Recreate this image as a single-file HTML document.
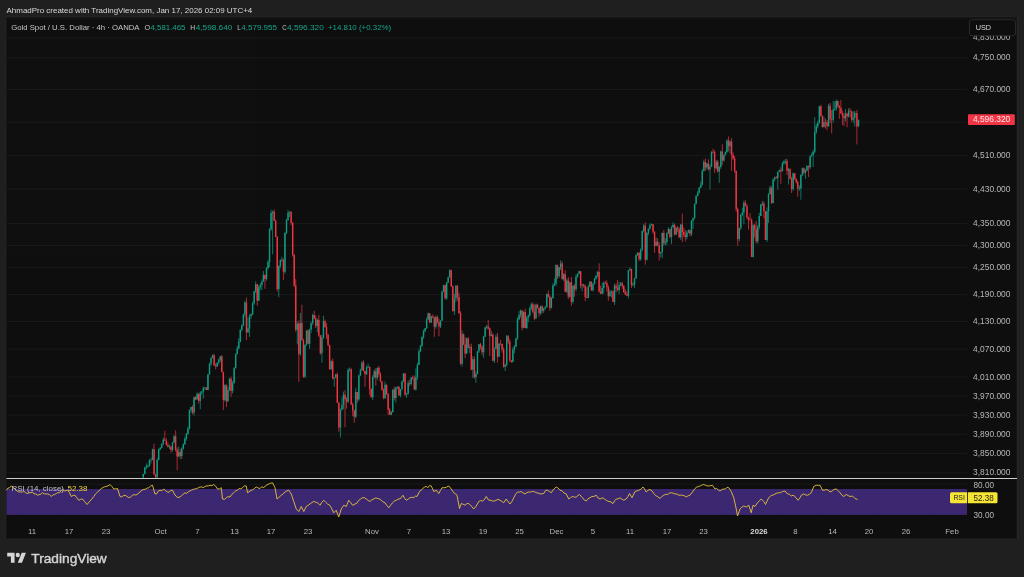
<!DOCTYPE html>
<html><head><meta charset="utf-8"><title>XAUUSD chart</title>
<style>
html,body{margin:0;padding:0;background:#1f1f1f;}
body{width:1024px;height:577px;position:relative;overflow:hidden;font-family:"Liberation Sans",sans-serif;}
svg{position:absolute;left:0;top:0;will-change:transform;opacity:0.9999;}
svg text{font-family:"Liberation Sans",sans-serif;}
</style></head><body>
<svg width="1024" height="577" viewBox="0 0 1024 577">
<defs><clipPath id="mp"><rect x="6.5" y="17" width="961" height="461"/></clipPath>
<filter id="soft" x="0" y="0" width="100%" height="100%" filterUnits="userSpaceOnUse"><feGaussianBlur stdDeviation="0.42"/></filter>
<pattern id="dots" x="6.5" y="489" width="3.8" height="5.4" patternUnits="userSpaceOnUse"><circle cx="1" cy="1.2" r="0.32" fill="#6d58a8"/><circle cx="2.9" cy="3.9" r="0.32" fill="#6d58a8"/></pattern></defs>
<rect x="5.4" y="16.2" width="1013.4" height="523.9" fill="#252525"/>
<rect x="6.2" y="17" width="1010.5" height="521.6" fill="#0f0f0f"/>
<rect x="6.2" y="17" width="1010.5" height="1.7" fill="#171717"/>
<rect x="6.2" y="17" width="0.9" height="521.6" fill="#171717"/>
<path d="M6.5 38.00H967" stroke="#1b1b1b" stroke-width="1"/><path d="M6.5 57.75H967" stroke="#1b1b1b" stroke-width="1"/><path d="M6.5 89.40H967" stroke="#1b1b1b" stroke-width="1"/><path d="M6.5 122.20H967" stroke="#1b1b1b" stroke-width="1"/><path d="M6.5 155.40H967" stroke="#1b1b1b" stroke-width="1"/><path d="M6.5 189.00H967" stroke="#1b1b1b" stroke-width="1"/><path d="M6.5 223.60H967" stroke="#1b1b1b" stroke-width="1"/><path d="M6.5 245.40H967" stroke="#1b1b1b" stroke-width="1"/><path d="M6.5 267.30H967" stroke="#1b1b1b" stroke-width="1"/><path d="M6.5 294.40H967" stroke="#1b1b1b" stroke-width="1"/><path d="M6.5 321.50H967" stroke="#1b1b1b" stroke-width="1"/><path d="M6.5 349.20H967" stroke="#1b1b1b" stroke-width="1"/><path d="M6.5 377.00H967" stroke="#1b1b1b" stroke-width="1"/><path d="M6.5 396.20H967" stroke="#1b1b1b" stroke-width="1"/><path d="M6.5 415.20H967" stroke="#1b1b1b" stroke-width="1"/><path d="M6.5 434.30H967" stroke="#1b1b1b" stroke-width="1"/><path d="M6.5 453.60H967" stroke="#1b1b1b" stroke-width="1"/><path d="M6.5 472.70H967" stroke="#1b1b1b" stroke-width="1"/><path d="M6.5 484.1H967" stroke="#1b1b1b" stroke-width="1"/>
<rect x="6.5" y="489" width="960.5" height="25.9" fill="#3c2771"/>
<rect x="6.5" y="489" width="960.5" height="25.9" fill="url(#dots)" opacity="0.55"/>
<g clip-path="url(#mp)"><g filter="url(#soft)"><path d="M143.28 473.55V477.67M144.82 466.77V474.58M146.36 463.28V469.22M147.90 464.83V467.86M149.44 459.18V466.55M150.98 457.72V463.54M152.52 448.66V460.36M157.14 457.78V478.56M158.68 448.51V460.32M160.22 447.05V450.16M161.76 443.09V448.42M163.30 437.40V444.81M169.46 444.56V449.04M172.54 442.03V451.49M174.08 435.10V442.99M178.70 446.54V457.10M181.78 447.33V458.79M183.32 443.20V449.49M184.86 436.70V445.05M186.40 432.97V440.57M187.94 426.29V434.62M189.48 409.32V429.43M191.02 406.69V412.91M194.10 396.89V415.64M197.18 392.29V399.40M200.26 391.19V409.21M201.80 391.11V394.65M203.34 386.61V398.74M204.88 386.88V390.16M207.96 373.81V390.16M209.50 362.90V374.58M211.04 356.74V365.99M212.58 354.43V358.46M217.20 362.47V366.95M218.74 358.69V364.47M220.28 355.64V362.05M224.90 384.20V401.53M227.98 386.71V401.74M229.52 378.00V391.13M232.60 380.94V393.43M234.14 367.04V383.41M235.68 353.30V368.38M237.22 345.84V354.49M238.76 338.04V349.38M240.30 329.48V342.54M241.84 324.27V331.55M243.38 313.72V326.23M244.92 300.81V317.15M248.00 317.34V333.01M249.54 313.72V336.91M251.08 313.39V318.81M252.62 301.87V315.14M254.16 290.73V304.89M255.70 281.21V293.18M258.78 285.26V300.83M260.32 283.15V289.87M261.86 279.41V290.20M263.40 271.05V281.81M266.48 267.22V280.73M268.02 259.72V269.38M269.56 228.07V267.18M271.10 209.81V230.96M272.64 210.50V254.47M278.80 265.30V297.21M280.34 259.40V268.33M281.88 256.70V261.85M284.96 232.06V274.03M286.50 218.73V234.12M288.04 209.81V220.84M289.58 211.13V217.15M297.28 321.62V344.31M300.36 313.00V355.79M304.98 344.33V377.91M306.52 330.10V345.85M309.60 328.62V348.87M311.14 321.50V333.16M312.68 313.81V325.08M317.30 318.53V332.30M321.92 334.61V362.88M323.46 315.74V338.75M331.16 360.47V369.73M334.24 377.54V386.76M335.78 374.10V378.30M340.40 408.26V437.55M341.94 397.34V410.53M343.48 391.56V409.27M348.10 368.16V403.12M349.64 367.43V371.77M355.80 387.75V418.15M358.88 374.43V400.78M360.42 368.68V375.90M361.96 360.96V370.83M366.58 365.47V375.07M368.12 363.55V367.73M372.74 374.96V399.90M374.28 369.32V378.45M377.36 367.71V380.02M385.06 381.57V399.11M391.22 411.12V415.21M392.76 388.95V412.77M395.84 387.22V402.43M397.38 386.36V389.13M400.46 388.92V397.45M402.00 380.40V390.64M403.54 372.97V382.20M406.62 392.92V397.84M408.16 380.43V394.81M411.24 377.24V385.35M415.86 368.50V390.76M417.40 362.79V380.08M418.94 349.08V365.00M420.48 344.89V352.12M422.02 336.16V346.74M423.56 329.35V338.87M425.10 328.03V332.44M426.64 317.37V329.08M428.18 312.45V320.21M431.26 315.77V322.72M435.88 315.38V328.74M440.50 320.51V328.14M442.04 290.53V321.01M443.58 284.87V292.17M446.66 281.84V299.96M448.20 276.50V283.04M449.74 269.30V277.71M454.36 293.93V315.03M455.90 284.99V302.21M462.06 330.29V366.70M466.68 337.42V353.78M469.76 344.39V353.16M472.84 356.24V378.02M475.92 371.25V382.82M477.46 350.77V374.39M479.00 344.03V353.02M483.62 335.86V357.86M485.16 326.75V337.10M486.70 324.92V329.25M491.32 330.91V336.56M494.40 347.30V363.08M495.94 334.42V349.31M499.02 343.02V357.15M505.18 364.02V371.02M506.72 334.82V366.51M512.88 347.09V362.67M514.42 345.04V353.40M515.96 337.92V347.47M517.50 317.29V339.74M519.04 311.10V320.35M520.58 309.57V317.60M523.66 311.24V328.42M526.74 316.28V329.16M528.28 314.33V322.27M529.82 306.51V316.61M531.36 302.84V310.05M535.98 303.67V318.78M540.60 305.58V314.95M543.68 307.57V312.87M545.22 305.76V309.46M546.76 293.79V307.27M551.38 296.81V308.48M552.92 283.22V298.72M554.46 278.53V286.01M556.00 264.29V286.09M559.08 266.97V277.99M560.62 260.29V270.11M563.70 272.89V281.04M566.78 278.49V293.04M569.86 281.79V297.58M572.94 285.19V303.44M576.02 274.11V291.29M577.56 273.63V277.80M579.10 270.77V274.35M582.18 283.84V291.23M588.34 284.76V298.17M589.88 280.91V287.02M592.96 282.64V291.43M594.50 277.86V284.24M596.04 275.12V279.61M597.58 270.95V277.34M602.20 282.53V294.43M603.74 281.52V293.37M609.90 289.43V296.64M611.44 290.38V297.60M614.52 283.85V305.05M619.14 282.22V294.08M620.68 282.00V286.26M628.38 270.20V298.42M629.92 267.16V271.18M633.00 281.91V286.31M634.54 277.76V288.26M636.08 253.80V278.62M637.62 252.44V255.75M640.70 248.35V260.77M642.24 230.34V251.29M643.78 224.02V232.47M646.86 232.23V260.57M648.40 228.57V235.27M649.94 223.60V229.73M651.48 223.42V225.59M656.10 237.52V246.45M660.72 251.83V257.21M662.26 232.43V258.13M665.34 238.36V245.46M666.88 232.43V244.92M668.42 227.12V234.02M671.50 225.81V244.18M673.04 222.30V228.25M676.12 227.05V235.36M680.74 224.19V239.89M686.90 230.54V239.35M688.44 229.43V233.21M691.52 219.99V236.03M693.06 217.64V228.90M694.60 203.51V219.36M696.14 195.07V204.45M697.68 191.05V196.53M699.22 186.74V193.56M700.76 181.40V187.98M702.30 169.12V185.62M703.84 159.62V171.63M706.92 163.05V169.55M710.00 164.24V189.66M711.54 151.13V167.09M716.16 160.03V169.70M719.24 166.01V182.75M720.78 150.67V168.86M723.86 154.67V161.76M725.40 151.33V155.77M726.94 139.30V153.48M730.02 140.27V153.59M739.26 227.85V241.35M740.80 213.65V230.12M742.34 207.78V216.23M743.88 200.67V224.17M753.12 223.77V257.56M757.74 224.94V243.89M759.28 212.78V229.27M760.82 203.83V216.18M762.36 200.85V205.80M766.98 207.51V242.05M768.52 193.27V222.89M770.06 185.75V194.78M773.14 178.27V203.34M774.68 176.68V181.37M777.76 171.43V189.62M779.30 169.54V172.06M782.38 161.40V171.40M783.92 160.08V164.58M785.46 158.89V164.31M788.54 168.13V184.47M793.16 172.66V190.89M799.32 185.19V190.83M800.86 174.60V199.71M802.40 167.57V176.12M805.48 168.96V178.81M807.02 165.07V171.34M810.10 155.11V169.17M811.64 152.67V156.45M813.18 149.63V166.97M814.72 117.14V153.41M816.26 123.97V133.87M817.80 120.76V128.41M819.34 106.04V123.81M823.96 116.61V127.40M828.58 103.89V126.90M833.20 100.91V122.40M834.74 101.23V110.82M836.28 99.58V110.80M845.52 109.08V121.53M848.60 108.18V117.53M853.22 111.26V122.84M854.76 110.83V126.50M858.50 119.40V127.00" stroke="#0f9f86" stroke-width="0.7" fill="none"/><path d="M154.06 443.65V474.97M155.60 473.79V477.97M164.84 430.86V440.79M166.38 438.14V445.55M167.92 442.34V447.51M171.00 445.76V452.64M175.62 430.46V451.52M177.16 447.57V470.24M180.24 448.89V459.26M192.56 405.13V414.37M195.64 395.98V400.10M198.72 392.84V403.49M206.42 387.21V390.12M214.12 353.71V365.89M215.66 363.49V369.33M221.82 355.09V372.17M223.36 371.67V410.11M226.44 384.27V407.07M231.06 376.61V396.98M246.46 297.44V340.13M257.24 283.96V305.74M264.94 274.52V288.80M274.18 209.41V220.91M275.72 219.56V237.29M277.26 235.99V291.38M283.42 258.49V280.12M291.12 210.96V225.19M292.66 222.01V256.50M294.20 254.11V287.05M295.74 279.03V331.97M298.82 320.37V381.93M301.90 304.80V340.49M303.44 338.74V377.85M308.06 329.54V344.17M314.22 310.71V319.17M315.76 315.50V328.04M318.84 314.93V337.02M320.38 335.00V354.82M325.00 319.66V327.89M326.54 322.91V338.95M328.08 333.64V346.07M329.62 344.72V369.79M332.70 358.58V379.52M337.32 372.56V403.23M338.86 402.16V431.77M345.02 390.13V427.21M346.56 397.19V408.67M351.18 368.19V405.34M352.72 402.47V416.26M354.26 409.86V422.80M357.34 392.01V403.17M363.50 360.31V371.64M365.04 370.96V386.91M369.66 366.30V395.08M371.20 388.53V397.54M375.82 368.20V385.72M378.90 365.76V376.70M380.44 372.40V382.14M381.98 380.85V390.60M383.52 388.32V399.37M386.60 384.68V394.92M388.14 392.95V414.99M389.68 407.78V415.03M394.30 386.54V400.45M398.92 386.16V395.42M405.08 373.25V396.03M409.70 379.62V386.36M412.78 375.54V379.96M414.32 375.41V389.99M429.72 313.20V323.12M432.80 314.18V318.33M434.34 316.39V336.80M437.42 315.57V323.66M438.96 318.53V336.25M445.12 284.70V299.23M451.28 269.76V287.04M452.82 285.37V311.17M457.44 285.26V300.84M458.98 292.84V313.88M460.52 311.08V364.97M463.60 333.27V345.07M465.14 337.45V358.03M468.22 337.13V348.47M471.30 343.69V370.21M474.38 356.41V378.77M480.54 342.87V349.50M482.08 345.63V355.14M488.24 320.03V329.83M489.78 327.54V356.01M492.86 333.15V361.15M497.48 332.78V362.65M500.56 339.83V345.16M502.10 343.50V352.48M503.64 347.33V367.58M508.26 335.07V344.25M509.80 339.23V361.79M511.34 360.28V363.00M522.12 310.22V330.55M525.20 308.53V328.25M532.90 302.33V313.48M534.44 304.54V320.17M537.52 303.74V308.66M539.06 307.56V316.85M542.14 305.57V313.24M548.30 290.37V297.56M549.84 295.27V310.76M557.54 264.64V279.04M562.16 261.14V279.29M565.24 270.34V292.11M568.32 277.17V299.09M571.40 276.87V305.75M574.48 283.93V296.76M580.64 270.96V288.43M583.72 283.71V287.84M585.26 284.67V301.25M586.80 287.20V298.12M591.42 281.31V290.79M599.12 263.28V292.90M600.66 285.63V294.12M605.28 280.72V284.08M606.82 280.48V291.66M608.36 285.39V300.69M612.98 290.68V302.06M616.06 283.29V292.61M617.60 280.11V291.17M622.22 281.85V288.69M623.76 284.89V292.58M625.30 288.95V295.06M626.84 290.93V296.13M631.46 268.66V288.00M639.16 252.06V261.20M645.32 222.41V264.62M653.02 224.02V233.78M654.56 231.57V252.83M657.64 238.15V246.13M659.18 242.14V260.54M663.80 229.86V245.92M669.96 228.97V238.47M674.58 223.73V235.28M677.66 225.84V232.35M679.20 227.18V238.07M682.28 213.59V242.21M683.82 227.68V237.35M685.36 229.93V241.37M689.98 229.65V236.26M705.38 158.46V170.90M708.46 159.36V170.81M713.08 148.61V153.55M714.62 150.13V172.96M717.70 159.77V172.31M722.32 144.33V164.96M728.48 136.55V151.46M731.56 138.23V170.93M733.10 152.45V160.21M734.64 156.00V172.79M736.18 170.68V211.99M737.72 207.71V245.72M745.42 200.20V206.36M746.96 203.91V219.30M748.50 216.71V229.58M750.04 213.16V220.55M751.58 218.27V257.03M754.66 223.89V237.59M756.20 220.96V243.39M763.90 201.42V218.32M765.44 210.96V240.01M771.60 186.12V204.03M776.22 176.01V179.03M780.84 167.26V183.78M787.00 158.93V175.09M790.08 168.39V179.43M791.62 176.70V193.01M794.70 173.11V179.59M796.24 178.35V183.56M797.78 180.40V196.77M803.94 167.41V174.35M808.56 165.40V176.98M820.88 104.68V116.51M822.42 115.27V127.66M825.50 118.76V128.38M827.04 120.24V130.18M830.12 102.99V123.32M831.66 110.09V133.35M837.82 100.66V107.81M839.36 104.96V118.84M840.90 99.96V113.96M842.44 110.46V125.10M843.98 112.72V126.12M847.06 112.70V127.28M850.14 108.11V117.61M851.68 110.37V121.65M856.90 109.90V144.50" stroke="#f23645" stroke-width="0.7" fill="none"/><path d="M143.28 474.11V477.42M144.82 467.80V474.11M146.36 466.26V467.80M147.90 465.83V466.43M149.44 460.12V465.99M150.98 459.77V460.37M152.52 449.17V460.03M157.14 459.94V477.25M158.68 449.33V459.94M160.22 447.75V449.33M161.76 444.14V447.75M163.30 439.39V444.14M169.46 446.54V447.14M172.54 442.49V450.06M174.08 436.32V442.49M178.70 451.88V456.46M181.78 448.56V456.01M183.32 444.37V448.56M184.86 438.85V444.37M186.40 434.04V438.85M187.94 428.50V434.04M189.48 410.01V428.50M191.02 406.90V410.01M194.10 397.24V412.58M197.18 393.88V399.38M200.26 392.71V401.08M201.80 391.44V392.71M203.34 388.00V391.44M204.88 387.49V388.09M207.96 374.58V389.96M209.50 363.78V374.58M211.04 358.05V363.78M212.58 355.19V358.05M217.20 362.74V366.51M218.74 359.38V362.74M220.28 356.46V359.38M224.90 385.31V400.04M227.98 389.93V401.29M229.52 378.68V389.93M232.60 383.20V390.83M234.14 368.28V383.20M235.68 354.17V368.28M237.22 348.38V354.17M238.76 341.77V348.38M240.30 329.63V341.77M241.84 325.17V329.63M243.38 314.39V325.17M244.92 302.43V314.39M248.00 328.34V332.17M249.54 316.13V328.34M251.08 314.47V316.13M252.62 303.24V314.47M254.16 291.54V303.24M255.70 284.16V291.54M258.78 287.21V300.69M260.32 284.94V287.21M261.86 281.45V284.94M263.40 274.89V281.45M266.48 268.36V279.09M268.02 261.90V268.36M269.56 229.26V261.90M271.10 212.95V229.26M272.64 211.65V212.95M278.80 265.96V289.06M280.34 260.13V265.96M281.88 259.59V260.19M284.96 232.91V271.77M286.50 220.03V232.91M288.04 212.72V220.03M289.58 211.93V212.72M297.28 323.87V329.68M300.36 323.10V354.35M304.98 344.65V376.85M306.52 330.52V344.65M309.60 329.54V343.74M311.14 323.22V329.54M312.68 314.89V323.22M317.30 319.99V325.94M321.92 337.66V353.32M323.46 321.14V337.66M331.16 361.27V369.26M334.24 377.54V378.61M335.78 374.24V377.54M340.40 409.72V427.60M341.94 404.82V409.72M343.48 394.78V404.82M348.10 369.95V401.65M349.64 369.32V369.95M355.80 392.11V416.78M358.88 375.39V399.51M360.42 369.97V375.39M361.96 362.52V369.97M366.58 367.25V374.37M368.12 366.85V367.45M372.74 376.97V397.28M374.28 371.27V376.97M377.36 367.77V377.68M385.06 384.69V397.93M391.22 411.90V414.64M392.76 389.69V411.90M395.84 387.44V397.96M397.38 386.83V387.44M400.46 389.07V395.38M402.00 381.38V389.07M403.54 373.38V381.38M406.62 393.59V394.48M408.16 382.94V393.59M411.24 377.51V383.75M415.86 376.92V389.43M417.40 364.98V376.92M418.94 351.24V364.98M420.48 345.96V351.24M422.02 337.04V345.96M423.56 331.28V337.04M425.10 328.34V331.28M426.64 319.42V328.34M428.18 313.21V319.42M431.26 316.55V322.38M435.88 317.07V326.81M440.50 320.57V326.44M442.04 291.73V320.57M443.58 284.95V291.73M446.66 282.52V298.24M448.20 277.32V282.52M449.74 270.33V277.32M454.36 298.50V311.16M455.90 285.82V298.50M462.06 334.18V363.82M466.68 338.50V353.58M469.76 347.06V347.77M472.84 359.17V369.73M475.92 373.98V377.17M477.46 351.26V373.98M479.00 344.26V351.26M483.62 336.52V352.18M485.16 327.49V336.52M486.70 326.53V327.49M491.32 334.68V335.99M494.40 348.89V360.74M495.94 336.76V348.89M499.02 343.78V356.67M505.18 364.76V366.81M506.72 336.16V364.76M512.88 349.40V361.87M514.42 346.44V349.40M515.96 338.38V346.44M517.50 319.45V338.38M519.04 314.89V319.45M520.58 310.59V314.89M523.66 311.93V327.71M526.74 317.65V328.06M528.28 315.55V317.65M529.82 308.33V315.55M531.36 304.19V308.33M535.98 304.70V318.47M540.60 306.33V313.15M543.68 308.38V310.70M545.22 307.14V308.38M546.76 294.07V307.14M551.38 297.89V307.66M552.92 285.40V297.89M554.46 283.84V285.40M556.00 265.24V283.84M559.08 267.37V276.27M560.62 263.56V267.37M563.70 274.32V279.25M566.78 280.62V291.67M569.86 282.28V296.78M572.94 285.81V301.82M576.02 276.84V289.20M577.56 273.67V276.84M579.10 271.28V273.67M582.18 284.72V285.48M588.34 286.81V298.00M589.88 281.78V286.81M592.96 284.13V290.22M594.50 278.84V284.13M596.04 275.76V278.84M597.58 271.90V275.76M602.20 287.92V293.67M603.74 282.88V287.92M609.90 291.85V296.16M611.44 291.28V291.88M614.52 285.73V301.90M619.14 285.29V289.89M620.68 283.62V285.29M628.38 270.37V295.84M629.92 268.88V270.37M633.00 284.36V285.22M634.54 278.60V284.36M636.08 255.28V278.60M637.62 252.87V255.28M640.70 249.62V259.15M642.24 231.07V249.62M643.78 225.84V231.07M646.86 232.90V259.74M648.40 228.66V232.90M649.94 225.29V228.66M651.48 224.22V225.29M656.10 241.78V245.97M660.72 251.97V253.19M662.26 233.04V251.97M665.34 241.92V243.24M666.88 233.19V241.92M668.42 229.00V233.19M671.50 227.31V237.00M673.04 224.74V227.31M676.12 227.83V234.39M680.74 224.44V237.31M686.90 232.56V236.91M688.44 230.26V232.56M691.52 220.77V233.70M693.06 218.18V220.77M694.60 203.70V218.18M696.14 195.90V203.70M697.68 192.68V195.90M699.22 187.63V192.68M700.76 184.74V187.63M702.30 170.93V184.74M703.84 162.10V170.93M706.92 163.44V167.39M710.00 166.64V169.35M711.54 152.11V166.64M716.16 161.85V168.13M719.24 166.88V171.62M720.78 151.59V166.88M723.86 154.73V160.55M725.40 151.90V154.73M726.94 140.48V151.90M730.02 141.38V146.19M739.26 228.01V238.94M740.80 214.89V228.01M742.34 212.47V214.89M743.88 202.73V212.47M753.12 225.23V256.97M757.74 226.97V241.33M759.28 215.99V226.97M760.82 204.43V215.99M762.36 203.44V204.43M766.98 211.30V239.97M768.52 194.06V211.30M770.06 187.81V194.06M773.14 179.38V203.12M774.68 177.42V179.38M777.76 172.05V177.91M779.30 170.28V172.05M782.38 163.39V171.30M783.92 161.68V163.39M785.46 161.07V161.68M788.54 169.33V170.79M793.16 173.30V189.04M799.32 188.09V188.69M800.86 174.63V188.38M802.40 168.36V174.63M805.48 170.46V172.81M807.02 165.93V170.46M810.10 156.44V167.14M811.64 154.95V156.44M813.18 151.66V154.95M814.72 131.91V151.66M816.26 126.23V131.91M817.80 122.65V126.23M819.34 106.16V122.65M823.96 122.24V126.95M828.58 105.70V125.98M833.20 109.56V119.71M834.74 108.78V109.56M836.28 101.01V108.78M845.52 113.72V118.30M848.60 110.81V116.37M853.22 117.65V119.74M854.76 112.79V117.65M858.50 120.00V126.30" stroke="#0f9f86" stroke-width="1.4" fill="none"/><path d="M154.06 449.17V474.23M155.60 474.23V477.25M164.84 439.39V440.74M166.38 440.74V444.92M167.92 444.92V446.87M171.00 446.80V450.06M175.62 436.32V449.80M177.16 449.80V456.46M180.24 451.88V456.01M192.56 406.90V412.58M195.64 397.24V399.38M198.72 393.88V401.08M206.42 387.59V389.96M214.12 355.19V365.51M215.66 365.51V366.51M221.82 356.46V372.06M223.36 372.06V400.04M226.44 385.31V401.29M231.06 378.68V390.83M246.46 302.43V332.17M257.24 284.16V300.69M264.94 274.89V279.09M274.18 211.65V220.87M275.72 220.87V237.07M277.26 237.07V289.06M283.42 259.65V271.77M291.12 211.93V222.86M292.66 222.86V254.77M294.20 254.77V285.58M295.74 285.58V329.68M298.82 323.87V354.35M301.90 323.10V340.35M303.44 340.35V376.85M308.06 330.52V343.74M314.22 314.89V318.53M315.76 318.53V325.94M318.84 319.99V335.44M320.38 335.44V353.32M325.00 321.14V326.93M326.54 326.93V335.05M328.08 335.05V345.22M329.62 345.22V369.26M332.70 361.27V378.61M337.32 374.24V402.64M338.86 402.64V427.60M345.02 394.78V399.18M346.56 399.18V401.65M351.18 369.32V404.15M352.72 404.15V410.51M354.26 410.51V416.78M357.34 392.11V399.51M363.50 362.52V371.05M365.04 371.05V374.37M369.66 367.05V388.89M371.20 388.89V397.28M375.82 371.27V377.68M378.90 367.77V373.94M380.44 373.94V381.54M381.98 381.54V389.82M383.52 389.82V397.93M386.60 384.69V394.31M388.14 394.31V409.67M389.68 409.67V414.64M394.30 389.69V397.96M398.92 386.83V395.38M405.08 373.38V394.48M409.70 382.94V383.75M412.78 377.51V378.56M414.32 378.56V389.43M429.72 313.21V322.38M432.80 316.55V317.76M434.34 317.76V326.81M437.42 317.07V322.32M438.96 322.32V326.44M445.12 284.95V298.24M451.28 270.33V286.42M452.82 286.42V311.16M457.44 285.82V297.00M458.98 297.00V312.91M460.52 312.91V363.82M463.60 334.18V344.51M465.14 344.51V353.58M468.22 338.50V347.77M471.30 347.06V369.73M474.38 359.17V377.17M480.54 344.26V346.86M482.08 346.86V352.18M488.24 326.53V328.39M489.78 328.39V335.99M492.86 334.68V360.74M497.48 336.76V356.67M500.56 343.64V344.24M502.10 344.10V349.39M503.64 349.39V366.81M508.26 336.16V341.83M509.80 341.83V360.47M511.34 360.47V361.87M522.12 310.59V327.71M525.20 311.93V328.06M532.90 304.19V312.01M534.44 312.01V318.47M537.52 304.70V307.91M539.06 307.91V313.15M542.14 306.33V310.70M548.30 294.07V296.83M549.84 296.83V307.66M557.54 265.24V276.27M562.16 263.56V279.25M565.24 274.32V291.67M568.32 280.62V296.78M571.40 282.28V301.82M574.48 285.81V289.20M580.64 271.28V285.48M583.72 284.72V286.06M585.26 286.06V297.05M586.80 297.05V298.00M591.42 281.78V290.22M599.12 271.90V291.43M600.66 291.43V293.67M605.28 282.60V283.20M606.82 282.92V287.14M608.36 287.14V296.16M612.98 291.32V301.90M616.06 285.73V288.25M617.60 288.25V289.89M622.22 283.62V285.94M623.76 285.94V292.22M625.30 292.22V294.57M626.84 294.57V295.84M631.46 268.88V285.22M639.16 252.87V259.15M645.32 225.84V259.74M653.02 224.22V231.60M654.56 231.60V245.97M657.64 241.78V245.09M659.18 245.09V253.19M663.80 233.04V243.24M669.96 229.00V237.00M674.58 224.74V234.39M677.66 227.83V229.35M679.20 229.35V237.31M682.28 224.44V232.12M683.82 232.12V235.06M685.36 235.06V236.91M689.98 230.26V233.70M705.38 162.10V167.39M708.46 163.44V169.35M713.08 151.83V152.43M714.62 152.16V168.13M717.70 161.85V171.62M722.32 151.59V160.55M728.48 140.48V146.19M731.56 141.38V154.81M733.10 154.81V158.52M734.64 158.52V171.09M736.18 171.09V209.35M737.72 209.35V238.94M745.42 202.73V205.96M746.96 205.96V217.16M748.50 217.16V219.72M750.04 219.67V220.27M751.58 220.21V256.97M754.66 225.23V229.36M756.20 229.36V241.33M763.90 203.44V211.25M765.44 211.25V239.97M771.60 187.81V203.12M776.22 177.36V177.96M780.84 170.28V171.30M787.00 161.07V170.79M790.08 169.33V178.80M791.62 178.80V189.04M794.70 173.30V179.18M796.24 179.18V182.25M797.78 182.25V188.40M803.94 168.36V172.81M808.56 165.93V167.14M820.88 106.16V115.92M822.42 115.92V126.95M825.50 122.11V122.71M827.04 122.58V125.98M830.12 105.70V119.56M831.66 119.34V119.94M837.82 101.01V106.11M839.36 106.11V107.68M840.90 107.68V113.18M842.44 113.18V115.70M843.98 115.70V118.30M847.06 113.72V116.37M850.14 110.81V111.41M851.68 111.40V119.74M856.90 113.00V126.50" stroke="#f23645" stroke-width="1.4" fill="none"/></g></g>
<path d="M6.25 490.25L7.92 488.09L9.58 487.82L11.25 486.00L13.12 487.24L15.00 489.00L16.88 490.85L18.75 492.00L20.42 491.81L22.08 492.23L23.75 491.00L25.62 492.88L27.50 493.50L29.17 492.75L30.83 492.69L32.50 492.00L34.17 494.05L35.83 493.87L37.50 495.25L39.17 494.66L40.83 494.24L42.50 492.75L44.17 493.86L45.83 493.87L47.50 494.00L49.38 494.52L51.25 496.50L52.92 494.81L54.58 494.64L56.25 493.50L57.92 492.63L59.58 492.73L61.25 490.25L62.81 489.78L64.38 490.88L65.94 490.67L67.50 490.25L69.38 492.46L71.25 496.50L73.12 495.42L75.00 495.25L76.88 497.84L78.75 500.25L80.62 499.35L82.50 499.00L84.75 501.67L87.00 504.50L90.00 501.00L91.88 499.01L93.75 496.50L95.62 493.80L97.50 492.00L99.17 490.84L100.83 488.82L102.50 487.75L104.38 486.83L106.25 486.50L108.12 485.80L110.00 484.50L111.88 486.43L113.75 489.00L115.62 488.91L117.50 488.50L120.00 496.50L121.67 496.96L123.33 495.68L125.00 495.25L126.88 496.42L128.75 497.75L130.62 496.90L132.50 495.25L134.17 494.63L135.83 495.01L137.50 494.00L140.00 492.00L141.88 490.04L143.75 489.50L145.42 489.26L147.08 488.05L148.75 487.75L150.62 486.06L152.50 485.25L155.00 494.00L156.67 493.72L158.33 491.03L160.00 490.25L161.88 490.59L163.75 489.00L165.62 490.86L167.50 492.00L169.17 492.22L170.83 490.30L172.50 490.25L174.38 494.03L176.25 496.50L178.12 497.55L180.00 497.00L181.67 495.52L183.33 494.10L185.00 492.75L186.67 493.52L188.33 491.68L190.00 491.00L191.67 490.10L193.33 489.32L195.00 489.00L196.67 488.58L198.33 487.85L200.00 487.00L201.67 486.93L203.33 487.61L205.00 486.50L206.67 485.90L208.33 485.93L210.00 485.25L211.88 485.68L213.75 484.50L215.62 486.20L217.50 489.00L219.38 488.95L221.25 487.75L222.50 499.00L224.38 499.38L226.25 497.75L228.12 496.63L230.00 497.00L231.88 494.27L233.75 492.75L235.62 490.93L237.50 490.25L239.17 488.40L240.83 488.83L242.50 487.75L244.38 485.85L246.25 486.00L247.50 492.75L250.00 491.00L251.67 490.19L253.33 489.63L255.00 487.75L256.67 487.11L258.33 488.08L260.00 488.50L261.67 486.78L263.33 487.60L265.00 486.50L266.88 484.84L268.75 484.00L270.62 483.23L272.50 482.75L275.00 487.75L277.00 499.00L279.12 497.15L281.25 495.25L283.12 493.92L285.00 492.00L286.88 490.93L288.75 490.25L291.25 494.00L293.75 501.50L296.25 509.00L298.75 511.50L301.25 506.50L303.75 511.50L306.25 506.50L308.12 505.26L310.00 504.00L311.88 502.45L313.75 501.50L315.62 502.19L317.50 502.75L320.00 505.25L321.88 502.11L323.75 500.25L325.62 502.16L327.50 504.00L329.38 504.81L331.25 507.75L333.75 512.75L336.25 510.25L338.75 517.00L341.25 509.00L343.75 505.25L346.25 506.50L348.75 500.25L350.62 502.48L352.50 505.25L355.00 504.00L356.88 503.18L358.75 500.25L360.62 499.04L362.50 497.75L364.38 497.68L366.25 499.00L368.12 500.39L370.00 501.50L371.88 499.72L373.75 499.00L375.62 497.84L377.50 498.50L379.38 498.97L381.25 500.25L383.12 501.91L385.00 502.75L386.88 505.46L388.75 507.75L390.62 505.20L392.50 502.75L394.38 500.99L396.25 500.25L398.12 499.03L400.00 499.00L403.00 495.25L404.62 498.49L406.25 500.25L408.12 499.13L410.00 497.75L411.88 497.23L413.75 497.75L415.38 495.96L417.00 496.50L419.50 491.50L422.50 489.00L424.38 487.00L426.25 486.50L427.92 487.69L429.58 485.53L431.25 486.00L433.75 491.50L436.25 490.25L438.75 493.50L440.38 490.58L442.00 487.75L445.00 487.75L446.88 486.99L448.75 486.00L451.25 489.00L453.75 492.75L455.38 493.91L457.00 495.25L459.50 508.50L461.25 503.50L463.12 504.22L465.00 505.25L466.88 503.62L468.75 503.50L471.25 506.00L473.75 509.00L476.25 506.00L478.75 501.50L480.62 500.67L482.50 501.00L484.38 499.68L486.25 496.50L488.75 500.25L490.62 500.21L492.50 501.00L494.38 501.09L496.25 500.25L498.12 499.32L500.00 500.25L501.88 501.35L503.75 502.75L506.25 499.00L508.12 501.64L510.00 504.00L511.88 501.45L513.75 497.75L515.62 494.26L517.50 492.00L519.38 492.08L521.25 491.50L523.12 492.96L525.00 494.00L526.88 492.59L528.75 492.00L530.62 492.01L532.50 491.50L534.38 491.63L536.25 492.75L538.12 492.94L540.00 494.00L541.88 493.74L543.75 493.50L545.62 490.38L547.50 490.25L549.38 491.44L551.25 492.75L553.75 489.00L556.25 487.00L558.12 488.07L560.00 490.25L561.88 490.70L563.75 492.75L566.25 494.00L568.75 499.00L570.62 497.52L572.50 496.50L574.38 497.17L576.25 497.00L577.88 495.53L579.50 494.50L582.50 497.75L584.38 500.07L586.25 501.00L588.12 498.74L590.00 497.75L591.88 496.40L593.75 496.50L596.25 495.25L598.12 497.98L600.00 499.00L603.00 497.75L604.62 499.22L606.25 500.25L608.12 501.39L610.00 501.50L613.00 503.50L614.62 500.80L616.25 499.00L618.12 498.82L620.00 497.75L621.88 499.14L623.75 500.25L626.25 499.00L627.88 496.61L629.50 493.50L632.00 497.75L635.00 491.50L636.88 490.89L638.75 490.25L640.88 489.29L643.00 487.00L644.62 489.14L646.25 492.00L648.12 490.22L650.00 489.50L651.88 490.69L653.75 493.50L655.62 495.64L657.50 496.50L660.00 498.50L661.88 496.47L663.75 495.25L665.62 494.30L667.50 494.50L669.38 493.11L671.25 492.75L673.12 493.13L675.00 494.00L676.88 493.93L678.75 495.25L680.62 495.09L682.50 495.25L684.38 495.78L686.25 497.00L688.12 495.82L690.00 495.25L692.50 492.00L695.00 488.50L696.88 486.97L698.75 486.50L700.42 485.85L702.08 484.91L703.75 484.50L705.62 485.31L707.50 486.00L709.17 485.89L710.83 485.69L712.50 485.25L715.00 489.00L716.67 488.46L718.33 490.04L720.00 491.00L721.88 489.56L723.75 489.00L725.42 489.01L727.08 487.30L728.75 487.75L731.25 491.50L733.75 497.75L736.25 509.00L737.50 516.00L740.00 509.00L741.88 507.11L743.75 506.00L746.25 507.00L748.75 505.25L751.25 512.75L753.00 505.25L755.00 506.50L757.50 502.75L759.38 500.71L761.25 499.00L763.75 501.50L765.50 504.50L768.00 499.00L769.62 496.94L771.25 495.25L773.12 495.17L775.00 494.00L776.88 493.13L778.75 492.75L780.62 492.66L782.50 491.50L785.00 491.00L787.50 494.00L789.38 494.19L791.25 496.00L793.12 495.25L795.00 496.50L798.00 500.25L799.62 498.42L801.25 495.25L803.75 494.00L805.62 494.86L807.50 495.25L809.38 494.27L811.25 492.75L813.75 486.50L816.25 485.25L818.12 485.32L820.00 485.25L822.50 490.25L824.38 490.14L826.25 489.50L828.12 490.08L830.00 492.00L831.88 491.27L833.75 489.50L836.25 489.00L838.12 490.58L840.00 492.75L841.88 495.17L843.75 496.50L846.25 494.50L848.12 495.55L850.00 496.50L852.50 496.00L855.00 498.50L857.50 499.50" stroke="#e8c43c" stroke-width="0.9" fill="none" stroke-linejoin="round"/>
<path d="M6.5 478.5H1017" stroke="#cfcfcf" stroke-width="1.1"/>
<text x="973.10" y="39.90" font-size="8.30" fill="#b8b8b8" font-weight="normal" text-anchor="start" textLength="37.30" lengthAdjust="spacingAndGlyphs">4,830.000</text>
<rect x="969.5" y="19.7" width="46" height="16" rx="2.5" fill="#0f0f0f" stroke="#2b2b2b" stroke-width="1"/>
<text x="975.70" y="30.40" font-size="7.80" fill="#dbdbdb" font-weight="normal" text-anchor="start" textLength="15.40" lengthAdjust="spacingAndGlyphs">USD</text>
<rect x="968" y="114.2" width="46.8" height="10.7" rx="1" fill="#f23645"/>
<text x="972.90" y="122.00" font-size="8.30" fill="#ffe9ec" font-weight="normal" text-anchor="start" textLength="37.40" lengthAdjust="spacingAndGlyphs">4,596.320</text>
<path d="M951.5 492.3H967.2V503.2H951.5A1.5 1.5 0 0 1 950 501.7V493.8A1.5 1.5 0 0 1 951.5 492.3Z" fill="#f7e734"/>
<path d="M968 492.3H996A1.5 1.5 0 0 1 997.5 493.8V501.7A1.5 1.5 0 0 1 996 503.2H968Z" fill="#f7e734"/>
<text x="953.40" y="500.40" font-size="7.00" fill="#1f1f1f" font-weight="normal" text-anchor="start" textLength="11.50" lengthAdjust="spacingAndGlyphs">RSI</text>
<text x="973.60" y="500.60" font-size="8.20" fill="#1f1f1f" font-weight="normal" text-anchor="start" textLength="20.20" lengthAdjust="spacingAndGlyphs">52.38</text>
<text x="6.50" y="12.70" font-size="7.95" fill="#dbdbdb" font-weight="normal" text-anchor="start" textLength="245.80" lengthAdjust="spacingAndGlyphs">AhmadPro created with TradingView.com, Jan 17, 2026 02:09 UTC+4</text><text x="11.20" y="29.60" font-size="7.85" fill="#c9c9c9" font-weight="normal" text-anchor="start" textLength="128.30" lengthAdjust="spacingAndGlyphs">Gold Spot / U.S. Dollar · 4h · OANDA</text><text x="144.40" y="29.60" font-size="7.85" fill="#c9c9c9" font-weight="normal" text-anchor="start" textLength="5.60" lengthAdjust="spacingAndGlyphs">O</text><text x="150.50" y="29.60" font-size="7.85" fill="#17a58c" font-weight="normal" text-anchor="start" textLength="35.00" lengthAdjust="spacingAndGlyphs">4,581.465</text><text x="190.30" y="29.60" font-size="7.85" fill="#c9c9c9" font-weight="normal" text-anchor="start" textLength="4.90" lengthAdjust="spacingAndGlyphs">H</text><text x="195.70" y="29.60" font-size="7.85" fill="#17a58c" font-weight="normal" text-anchor="start" textLength="36.70" lengthAdjust="spacingAndGlyphs">4,598.640</text><text x="237.30" y="29.60" font-size="7.85" fill="#c9c9c9" font-weight="normal" text-anchor="start" textLength="3.60" lengthAdjust="spacingAndGlyphs">L</text><text x="241.20" y="29.60" font-size="7.85" fill="#17a58c" font-weight="normal" text-anchor="start" textLength="35.90" lengthAdjust="spacingAndGlyphs">4,579.955</text><text x="282.30" y="29.60" font-size="7.85" fill="#c9c9c9" font-weight="normal" text-anchor="start" textLength="4.40" lengthAdjust="spacingAndGlyphs">C</text><text x="287.00" y="29.60" font-size="7.85" fill="#17a58c" font-weight="normal" text-anchor="start" textLength="36.80" lengthAdjust="spacingAndGlyphs">4,596.320</text><text x="328.00" y="29.60" font-size="7.85" fill="#17a58c" font-weight="normal" text-anchor="start" textLength="63.20" lengthAdjust="spacingAndGlyphs">+14.810 (+0.32%)</text><text x="973.10" y="60.35" font-size="8.30" fill="#b8b8b8" font-weight="normal" text-anchor="start" textLength="37.30" lengthAdjust="spacingAndGlyphs">4,750.000</text><text x="973.10" y="92.00" font-size="8.30" fill="#b8b8b8" font-weight="normal" text-anchor="start" textLength="37.30" lengthAdjust="spacingAndGlyphs">4,670.000</text><text x="973.10" y="158.00" font-size="8.30" fill="#b8b8b8" font-weight="normal" text-anchor="start" textLength="37.30" lengthAdjust="spacingAndGlyphs">4,510.000</text><text x="973.10" y="191.60" font-size="8.30" fill="#b8b8b8" font-weight="normal" text-anchor="start" textLength="37.30" lengthAdjust="spacingAndGlyphs">4,430.000</text><text x="973.10" y="226.20" font-size="8.30" fill="#b8b8b8" font-weight="normal" text-anchor="start" textLength="37.30" lengthAdjust="spacingAndGlyphs">4,350.000</text><text x="973.10" y="248.00" font-size="8.30" fill="#b8b8b8" font-weight="normal" text-anchor="start" textLength="37.30" lengthAdjust="spacingAndGlyphs">4,300.000</text><text x="973.10" y="269.90" font-size="8.30" fill="#b8b8b8" font-weight="normal" text-anchor="start" textLength="37.30" lengthAdjust="spacingAndGlyphs">4,250.000</text><text x="973.10" y="297.00" font-size="8.30" fill="#b8b8b8" font-weight="normal" text-anchor="start" textLength="37.30" lengthAdjust="spacingAndGlyphs">4,190.000</text><text x="973.10" y="324.10" font-size="8.30" fill="#b8b8b8" font-weight="normal" text-anchor="start" textLength="37.30" lengthAdjust="spacingAndGlyphs">4,130.000</text><text x="973.10" y="351.80" font-size="8.30" fill="#b8b8b8" font-weight="normal" text-anchor="start" textLength="37.30" lengthAdjust="spacingAndGlyphs">4,070.000</text><text x="973.10" y="379.60" font-size="8.30" fill="#b8b8b8" font-weight="normal" text-anchor="start" textLength="37.30" lengthAdjust="spacingAndGlyphs">4,010.000</text><text x="973.10" y="398.80" font-size="8.30" fill="#b8b8b8" font-weight="normal" text-anchor="start" textLength="37.30" lengthAdjust="spacingAndGlyphs">3,970.000</text><text x="973.10" y="417.80" font-size="8.30" fill="#b8b8b8" font-weight="normal" text-anchor="start" textLength="37.30" lengthAdjust="spacingAndGlyphs">3,930.000</text><text x="973.10" y="436.90" font-size="8.30" fill="#b8b8b8" font-weight="normal" text-anchor="start" textLength="37.30" lengthAdjust="spacingAndGlyphs">3,890.000</text><text x="973.10" y="456.20" font-size="8.30" fill="#b8b8b8" font-weight="normal" text-anchor="start" textLength="37.30" lengthAdjust="spacingAndGlyphs">3,850.000</text><text x="973.10" y="475.30" font-size="8.30" fill="#b8b8b8" font-weight="normal" text-anchor="start" textLength="37.30" lengthAdjust="spacingAndGlyphs">3,810.000</text><text x="32.00" y="533.60" font-size="7.80" fill="#b8b8b8" font-weight="normal" text-anchor="middle">11</text><text x="69.00" y="533.60" font-size="7.80" fill="#b8b8b8" font-weight="normal" text-anchor="middle">17</text><text x="106.00" y="533.60" font-size="7.80" fill="#b8b8b8" font-weight="normal" text-anchor="middle">23</text><text x="160.50" y="533.60" font-size="7.80" fill="#b8b8b8" font-weight="normal" text-anchor="middle">Oct</text><text x="197.50" y="533.60" font-size="7.80" fill="#b8b8b8" font-weight="normal" text-anchor="middle">7</text><text x="234.50" y="533.60" font-size="7.80" fill="#b8b8b8" font-weight="normal" text-anchor="middle">13</text><text x="271.00" y="533.60" font-size="7.80" fill="#b8b8b8" font-weight="normal" text-anchor="middle">17</text><text x="308.00" y="533.60" font-size="7.80" fill="#b8b8b8" font-weight="normal" text-anchor="middle">23</text><text x="372.00" y="533.60" font-size="7.80" fill="#b8b8b8" font-weight="normal" text-anchor="middle">Nov</text><text x="409.00" y="533.60" font-size="7.80" fill="#b8b8b8" font-weight="normal" text-anchor="middle">7</text><text x="446.00" y="533.60" font-size="7.80" fill="#b8b8b8" font-weight="normal" text-anchor="middle">13</text><text x="483.00" y="533.60" font-size="7.80" fill="#b8b8b8" font-weight="normal" text-anchor="middle">19</text><text x="519.50" y="533.60" font-size="7.80" fill="#b8b8b8" font-weight="normal" text-anchor="middle">25</text><text x="556.50" y="533.60" font-size="7.80" fill="#b8b8b8" font-weight="normal" text-anchor="middle">Dec</text><text x="593.00" y="533.60" font-size="7.80" fill="#b8b8b8" font-weight="normal" text-anchor="middle">5</text><text x="630.00" y="533.60" font-size="7.80" fill="#b8b8b8" font-weight="normal" text-anchor="middle">11</text><text x="667.00" y="533.60" font-size="7.80" fill="#b8b8b8" font-weight="normal" text-anchor="middle">17</text><text x="703.50" y="533.60" font-size="7.80" fill="#b8b8b8" font-weight="normal" text-anchor="middle">23</text><text x="759.00" y="533.60" font-size="7.80" fill="#dbdbdb" font-weight="bold" text-anchor="middle">2026</text><text x="795.50" y="533.60" font-size="7.80" fill="#b8b8b8" font-weight="normal" text-anchor="middle">8</text><text x="832.50" y="533.60" font-size="7.80" fill="#b8b8b8" font-weight="normal" text-anchor="middle">14</text><text x="869.00" y="533.60" font-size="7.80" fill="#b8b8b8" font-weight="normal" text-anchor="middle">20</text><text x="906.00" y="533.60" font-size="7.80" fill="#b8b8b8" font-weight="normal" text-anchor="middle">26</text><text x="952.00" y="533.60" font-size="7.80" fill="#b8b8b8" font-weight="normal" text-anchor="middle">Feb</text><text x="11.60" y="491.30" font-size="7.70" fill="#c4c4c4" font-weight="normal" text-anchor="start" textLength="52.40" lengthAdjust="spacingAndGlyphs">RSI (14, close)</text><text x="67.50" y="491.30" font-size="7.70" fill="#f0d638" font-weight="normal" text-anchor="start" textLength="20.00" lengthAdjust="spacingAndGlyphs">52.38</text><text x="973.50" y="487.70" font-size="8.20" fill="#b8b8b8" font-weight="normal" text-anchor="start" textLength="20.50" lengthAdjust="spacingAndGlyphs">80.00</text><text x="973.50" y="517.50" font-size="8.20" fill="#b8b8b8" font-weight="normal" text-anchor="start" textLength="20.50" lengthAdjust="spacingAndGlyphs">30.00</text>
<g transform="translate(7.2 552.7) scale(0.5278 0.5556) translate(0 -4)" fill="#d6d6d6"><path d="M14 22H7V11H0V4h14v18zM28 22h-8l7.5-18h8L28 22z"/><circle cx="20" cy="8" r="4"/></g>
<text x="31.30" y="562.70" font-size="13.40" fill="#d6d6d6" font-weight="normal" text-anchor="start" textLength="75.40" lengthAdjust="spacingAndGlyphs" stroke="#d6d6d6" stroke-width="0.4">TradingView</text>
</svg>
</body></html>
